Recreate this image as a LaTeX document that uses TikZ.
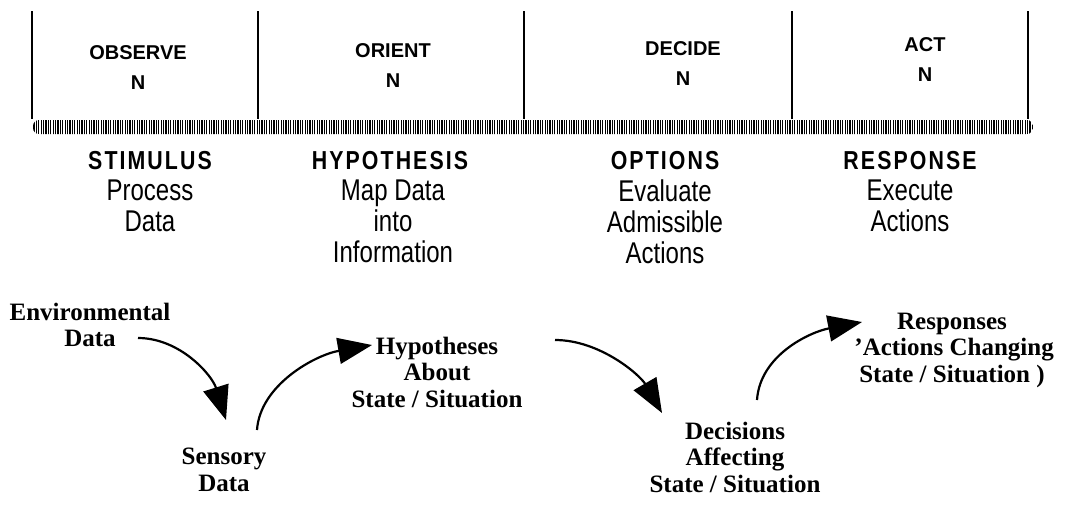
\documentclass[tikz,border=0pt]{standalone}
\usepackage{fontspec}
\setmainfont{Liberation Serif}
\newfontfamily\headfont{Liberation Sans}
\newfontfamily\stagefont[FakeStretch=0.82,LetterSpace=8]{Liberation Sans}
\newfontfamily\taskfont[FakeStretch=0.80]{Liberation Sans}
\usetikzlibrary{arrows.meta}
\tikzset{
  divider/.style={line width=1.6pt},
  phase/.style={font=\headfont\bfseries\fontsize{20}{30}\selectfont, align=center, inner sep=0pt},
  stage/.style={font=\stagefont\bfseries\fontsize{26}{26}\selectfont, inner sep=0pt},
  task/.style={font=\taskfont\fontsize{30}{31}\selectfont, align=center, inner sep=0pt, anchor=north},
  state/.style={font=\bfseries\fontsize{25}{26.5}\selectfont, align=center, inner sep=0pt},
  flow/.style={line width=2.2pt, -{Triangle[length=34pt,width=26pt]}},
}
\begin{document}
\begin{tikzpicture}[x=1pt,y=-1pt]
\useasboundingbox (0,0) rectangle (1067,504);

% phase dividers
\foreach \i/\xx in {a/32,b/258,c/524,d/792,e/1028}{
  \coordinate (top\i) at (\xx,11);
  \coordinate (bot\i) at (\xx,119);
  \draw[divider] (top\i) -- (bot\i);
}

% phase names
\node[phase] (observe) at (138,68) {OBSERVE\\N};
\node[phase] (orient)  at (393,66) {ORIENT\\N};
\node[phase] (decide)  at (683,64) {DECIDE\\N};
\node[phase] (act)     at (925,60) {ACT\\N};

% striped time bar
\begin{scope}
  \clip[rounded corners=6pt] (33,120) rectangle (1033,134);
  \foreach \xx in {34,36.4,...,1033}{
    \draw[line width=1.3pt] (\xx,119) -- (\xx,135);
  }
\end{scope}

% stage names
\node[stage] (stim) at (150,161) {STIMULUS};
\node[stage] (hypo) at (390,161) {HYPOTHESIS};
\node[stage] (opt)  at (665,161) {OPTIONS};
\node[stage] (resp) at (910,161) {RESPONSE};

% stage tasks
\node[task] (t1) at (150,180) {Process\\Data};
\node[task] (t2) at (393,180) {Map Data\\into\\Information};
\node[task] (t3) at (665,180) {Evaluate\\Admissible\\Actions};
\node[task] (t4) at (910,180) {Execute\\Actions};

% states of the loop
\node[state] (env)  at (90,325)  {Environmental\\Data};
\node[state] (sens) at (224,470) {Sensory\\Data};
\node[state] (hyp)  at (437,372) {Hypotheses\\About\\State / Situation};
\node[state] (dec)  at (735,457) {Decisions\\Affecting\\State / Situation};
\node[state] (rsp)  at (952,350) {Responses\\\,'Actions Changing\\State / Situation )};

% flow between states
\coordinate (e1) at (138,338);
\coordinate (e2) at (226,420);
\coordinate (s1) at (257,430);
\coordinate (s2) at (372,345);
\coordinate (h1) at (555,340);
\coordinate (h2) at (662,413);
\coordinate (d1) at (757,400);
\coordinate (d2) at (862,322);
\draw[flow] (e1) .. controls (180,338) and (212,375) .. (e2);
\draw[flow] (s1) .. controls (260,385) and (315,355) .. (s2);
\draw[flow] (h1) .. controls (600,340) and (640,375) .. (h2);
\draw[flow] (d1) .. controls (760,355) and (810,332) .. (d2);
\end{tikzpicture}
\end{document}
